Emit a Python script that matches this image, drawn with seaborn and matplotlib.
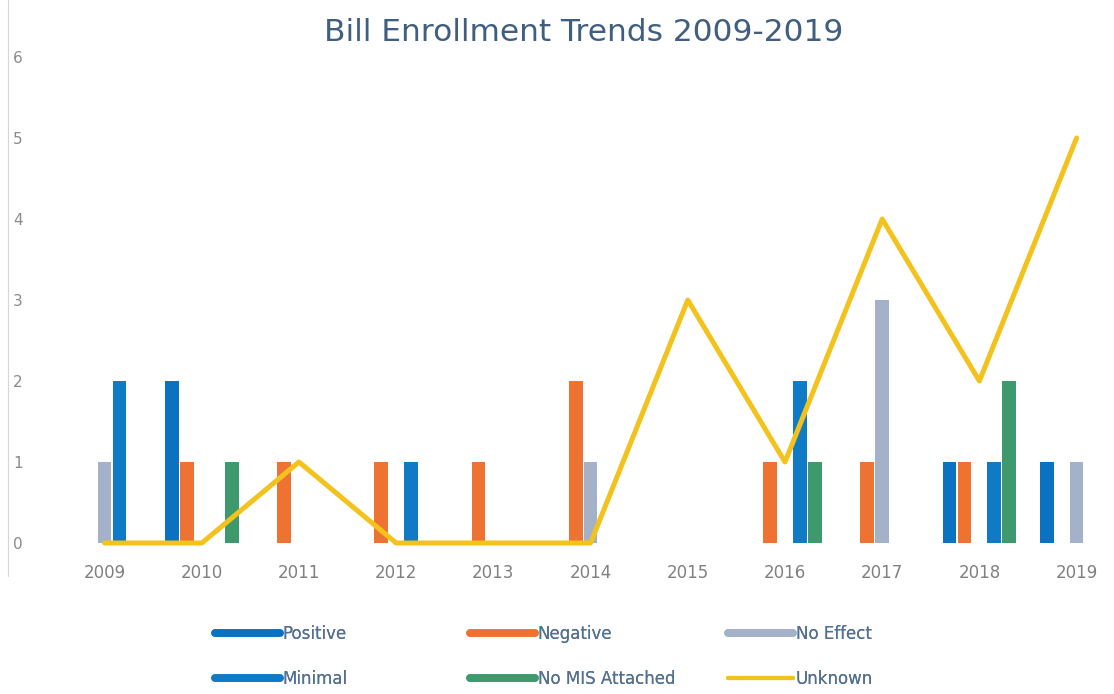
import numpy as np
import pandas as pd
import matplotlib
matplotlib.use("Agg")
import matplotlib.pyplot as plt
from matplotlib.lines import Line2D
import seaborn as sns

years = ["2009", "2010", "2011", "2012", "2013", "2014",
         "2015", "2016", "2017", "2018", "2019"]
bar_series = ["Positive", "Negative", "No Effect", "Minimal", "No MIS Attached"]
positive = [0, 2, 0, 0, 0, 0, 0, 0, 0, 1, 1]
negative = [0, 1, 1, 1, 1, 2, 0, 1, 1, 1, 0]
no_effect = [1, 0, 0, 0, 0, 1, 0, 0, 3, 0, 1]
minimal = [2, 0, 0, 1, 0, 0, 0, 2, 0, 1, 0]
no_mis = [0, 1, 0, 0, 0, 0, 0, 1, 0, 2, 0]
unknown = [0, 0, 1, 0, 0, 0, 3, 1, 4, 2, 5]

colors = {
    "Positive": "#0a72c0",
    "Negative": "#ee7333",
    "No Effect": "#a3b2c8",
    "Minimal": "#0f7bc6",
    "No MIS Attached": "#3e9a6c",
}
line_color = "#f3c21c"

rows = []
for name, vals in zip(bar_series, [positive, negative, no_effect, minimal, no_mis]):
    for y, v in zip(years, vals):
        rows.append({"Year": y, "Series": name, "Count": v})
df = pd.DataFrame(rows)

sns.set_theme(style="white")
plt.rcParams["font.family"] = ["DejaVu Sans"]

fig = plt.figure(figsize=(11.14, 6.94), dpi=100)
ax = fig.add_axes([56 / 1114, 151 / 694, 1058 / 1114, 486 / 694])

sns.barplot(data=df, x="Year", y="Count", hue="Series", order=years,
            hue_order=bar_series, palette=colors, width=0.77, gap=0.08,
            linewidth=0, saturation=1, ax=ax, legend=False)

sns.lineplot(x=np.arange(len(years)), y=unknown, color=line_color,
             linewidth=3.6, ax=ax, clip_on=False)

ax.set_xlim(-0.5, 10.385)
ax.set_ylim(0, 6)
ax.set_yticks(range(0, 7))
ax.set_xlabel("")
ax.set_ylabel("")
for s in ax.spines.values():
    s.set_visible(False)
ax.tick_params(axis="y", length=0, pad=24, labelsize=11, labelcolor="#8a8a8a")
ax.tick_params(axis="x", length=0, pad=15, labelsize=12, labelcolor="#808080")

# faint left frame line
fig.add_artist(Line2D([8 / 1114, 8 / 1114], [0.17, 1.0],
                      color="#d6d6d6", linewidth=0.8))

fig.text(0.524, 0.953, "Bill Enrollment Trends 2009-2019", ha="center",
         va="center", fontsize=22.5, color="#3f5e80")

handles = {
    name: Line2D([0], [0], color=colors[name], linewidth=5.5,
                 solid_capstyle="round")
    for name in bar_series
}
handles["Unknown"] = Line2D([0], [0], color=line_color, linewidth=3)

# legend laid out as three columns of two entries
legend_cols = [(215, ["Positive", "Minimal"]),
               (470, ["Negative", "No MIS Attached"]),
               (728, ["No Effect", "Unknown"])]
for x_px, names in legend_cols:
    leg = fig.legend([handles[n] for n in names], names, loc="upper left",
                     bbox_to_anchor=(x_px / 1114, 1 - 625 / 694),
                     frameon=False, fontsize=12, labelcolor="#52708f",
                     handlelength=3.9, handletextpad=0.15,
                     labelspacing=1.6, borderpad=0, borderaxespad=0)
    fig.add_artist(leg)

fig.savefig("out.png", dpi=100)
